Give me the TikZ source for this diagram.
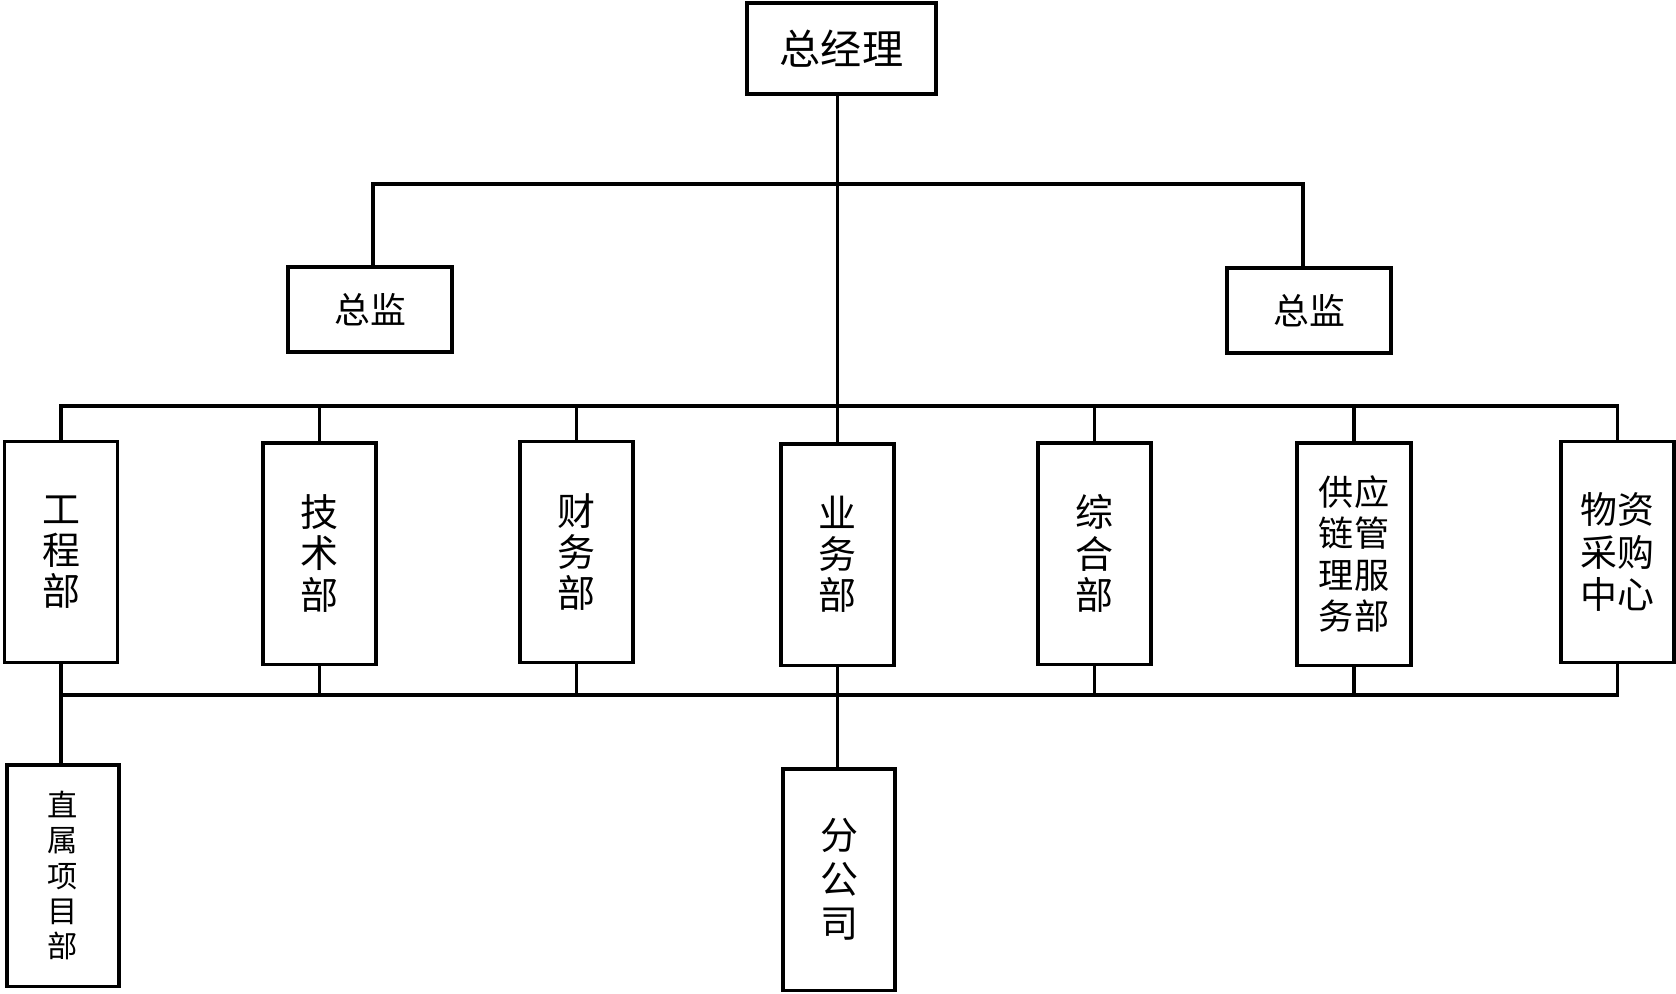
\documentclass[tikz,border=0pt]{standalone}
\usepackage{fontspec}
\newfontfamily\cjk{Noto Sans CJK SC}
\tikzset{
  box/.style={draw, line width=0.9pt, inner sep=0pt, align=center},
  sup/.style={box, minimum width=1.64cm, minimum height=0.85cm, font=\cjk\fontsize{10.2}{12}\selectfont},
  dept/.style={box, minimum width=1.13cm, minimum height=2.21cm, font=\cjk\fontsize{10.8}{11.7}\selectfont},
  link/.style={line width=0.9pt},
}
\begin{document}
\begin{tikzpicture}[x=0.01cm,y=-0.01cm]
            \useasboundingbox (0,0) rectangle (1676,993);

            % Draw the top boxes
            \node[box, minimum width=1.89cm, minimum height=0.91cm, font=\cjk\fontsize{11.7}{14}\selectfont] (gm) at (841.5,48.5) {总经理};
            \node[sup] (sup1) at (370,309.5) {总监};
            \node[sup] (sup2) at (1309,310.5) {总监};

            % Draw the departments
            \foreach \name/\x/\y/\label in {gcb/61/552/工\\程\\部, jsb/319.5/553.5/技\\术\\部, cwb/576.5/552/财\\务\\部, ywb/837.5/554.5/业\\务\\部, zhb/1094.5/553.5/综\\合\\部} {
                \node[dept] (\name) at (\x,\y) {\label};
            }
            \node[dept, minimum width=1.14cm, minimum height=2.22cm, font=\cjk\fontsize{10}{11.7}\selectfont] (gyl) at (1354,554) {供应\\链管\\理服\\务部};
            \node[dept, font=\cjk\fontsize{10.5}{12}\selectfont] (wz) at (1617.5,552) {物资\\采购\\中心};

            % Draw the lower boxes
            \node[dept, minimum width=1.12cm, font=\cjk\fontsize{8.6}{10}\selectfont] (zsx) at (63,875.5) {直\\属\\项\\目\\部};
            \node[dept, minimum width=1.12cm, font=\cjk\fontsize{10.8}{12.5}\selectfont] (fgs) at (839,879.5) {分\\公\\司};

            % Draw the connectors
            \coordinate (top bus) at (838,184);
            \coordinate (mid bus) at (838,406);
            \coordinate (low bus) at (838,695);
            \draw[link] (ywb.north) -- (ywb.north |- gm.south);
            \draw[link] ([xshift=0.03cm]sup1.north) |- (top bus) -| ([xshift=-0.06cm]sup2.north);
            \draw[link] (gcb.north) |- (mid bus) -| (wz.north);
            \foreach \name in {jsb, cwb, zhb, gyl} {
                \draw[link] (\name.north) -- (\name.north |- mid bus);
            }
            \draw[link] (gcb.south) -- (gcb.south |- zsx.north);
            \draw[link] (gcb.south |- low bus) -| (wz.south);
            \foreach \name in {jsb, cwb, zhb, gyl} {
                \draw[link] (\name.south) -- (\name.south |- low bus);
            }
            \draw[link] (ywb.south) -- (ywb.south |- fgs.north);
        \end{tikzpicture}
\end{document}
